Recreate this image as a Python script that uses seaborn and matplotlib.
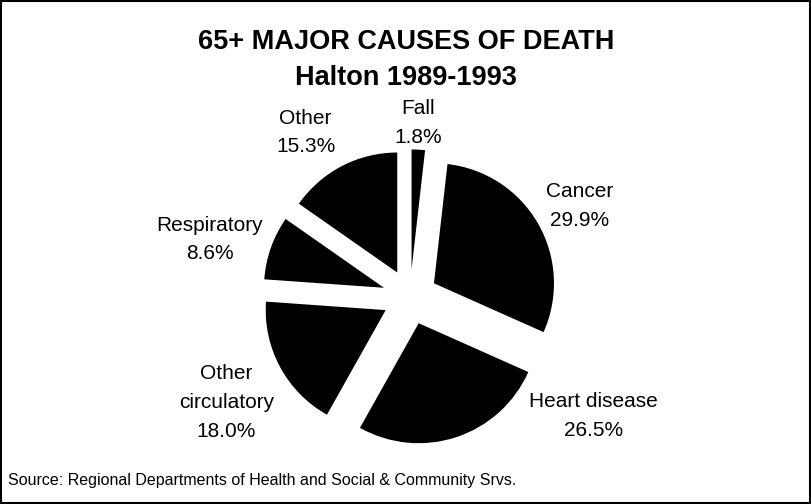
import matplotlib
matplotlib.use("Agg")
import matplotlib.pyplot as plt
from matplotlib.patches import Rectangle
import seaborn as sns

# Data
causes = ['Fall', 'Cancer', 'Heart disease', 'Other\ncirculatory', 'Respiratory', 'Other']
shares = [1.8, 29.9, 26.5, 18.0, 8.6, 15.3]

# label centres, pie radius = 1, pie centre = (0, 0)
label_xy = {
    'Fall': (0.07, 1.45),
    'Cancer': (1.41, 0.76),
    'Heart disease': (1.53, -0.99),
    'Other\ncirculatory': (-1.53, -0.88),
    'Respiratory': (-1.67, 0.48),
    'Other': (-0.87, 1.37),
}

sns.set_style("white")
plt.rcParams['font.family'] = ['Liberation Sans', 'DejaVu Sans']
plt.rcParams['text.color'] = 'black'

fig = plt.figure(figsize=(8.12, 5.04), dpi=100)
ax = fig.add_axes([0, 0, 1, 1])

wedges, _ = ax.pie(shares, startangle=90, counterclock=False,
                   explode=[0.23] * len(shares), colors=['black'] * len(shares),
                   wedgeprops={'linewidth': 0})

for name, val in zip(causes, shares):
    x, y = label_xy[name]
    ax.text(x, y, f"{name}\n{val:.1f}%", ha='center', va='center',
            fontsize=15, linespacing=1.65, color='black')

# pie centre at (410, 297) px, radius 120 px
ax.set_xlim(-410 / 120, 402 / 120)
ax.set_ylim(-207 / 120, 297 / 120)
ax.set_aspect('auto')
ax.axis('off')

fig.text(0.5, 1 - 60 / 504, "65+ MAJOR CAUSES OF DEATH\nHalton 1989-1993",
         ha='center', va='center', fontsize=19.5, fontweight='bold',
         linespacing=1.5, color='black')
fig.text(8 / 812, 1 - 481 / 504,
         "Source: Regional Departments of Health and Social & Community Srvs.",
         ha='left', va='center', fontsize=11.5, color='black')

fig.patches.append(Rectangle((0.001, 0.002), 0.997, 0.996, transform=fig.transFigure,
                             fill=False, edgecolor='black', linewidth=1.5))

fig.savefig("out.png", dpi=100)
